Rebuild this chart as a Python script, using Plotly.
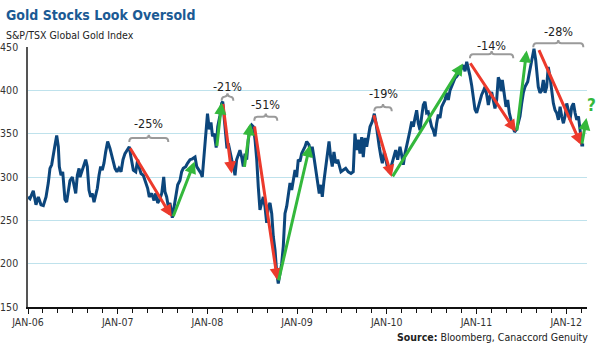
import plotly.graph_objects as go

# ---- data (decimal year, index level) ----
t = [2006.000, 2006.022, 2006.059, 2006.089, 2006.115, 2006.145, 2006.171, 2006.201, 2006.226, 2006.245,
     2006.264, 2006.282, 2006.301, 2006.320, 2006.338, 2006.349, 2006.368, 2006.387, 2006.401, 2006.412,
     2006.431, 2006.449, 2006.468, 2006.494, 2006.516, 2006.532, 2006.550, 2006.569, 2006.580, 2006.599,
     2006.616, 2006.643, 2006.661, 2006.680, 2006.699, 2006.717, 2006.736, 2006.755, 2006.773, 2006.792,
     2006.810, 2006.828, 2006.847, 2006.866, 2006.888, 2006.914, 2006.933, 2006.951, 2006.970, 2006.992,
     2007.014, 2007.037, 2007.059, 2007.081, 2007.104, 2007.129, 2007.148, 2007.174, 2007.201, 2007.223,
     2007.237, 2007.260, 2007.285, 2007.312, 2007.334, 2007.352, 2007.379, 2007.405, 2007.424, 2007.446,
     2007.464, 2007.491, 2007.513, 2007.527, 2007.546, 2007.564, 2007.583, 2007.609, 2007.631, 2007.650,
     2007.669, 2007.694, 2007.713, 2007.731, 2007.758, 2007.780, 2007.806, 2007.832, 2007.862, 2007.881,
     2007.906, 2007.929, 2007.943, 2007.962, 2007.981, 2008.001, 2008.021, 2008.040, 2008.057, 2008.077,
     2008.098, 2008.115, 2008.140, 2008.159, 2008.171, 2008.188, 2008.204, 2008.218, 2008.233, 2008.252,
     2008.271, 2008.289, 2008.308, 2008.326, 2008.344, 2008.363, 2008.382, 2008.400, 2008.419, 2008.438,
     2008.456, 2008.475, 2008.494, 2008.512, 2008.531, 2008.550, 2008.567, 2008.586, 2008.605, 2008.623,
     2008.642, 2008.661, 2008.679, 2008.698, 2008.717, 2008.735, 2008.754, 2008.773, 2008.790, 2008.809,
     2008.828, 2008.846, 2008.865, 2008.884, 2008.902, 2008.921, 2008.940, 2008.958, 2008.977, 2008.995,
     2009.013, 2009.032, 2009.051, 2009.069, 2009.088, 2009.107, 2009.133, 2009.155, 2009.169, 2009.192,
     2009.207, 2009.230, 2009.247, 2009.266, 2009.281, 2009.300, 2009.319, 2009.337, 2009.356, 2009.374,
     2009.392, 2009.411, 2009.430, 2009.453, 2009.470, 2009.489, 2009.515, 2009.542, 2009.571, 2009.601,
     2009.626, 2009.645, 2009.664, 2009.682, 2009.701, 2009.720, 2009.738, 2009.757, 2009.776, 2009.794,
     2009.813, 2009.838, 2009.861, 2009.880, 2009.898, 2009.916, 2009.935, 2009.950, 2009.972, 2009.988,
     2010.010, 2010.030, 2010.047, 2010.072, 2010.099, 2010.121, 2010.147, 2010.166, 2010.184, 2010.203,
     2010.222, 2010.240, 2010.259, 2010.278, 2010.296, 2010.314, 2010.333, 2010.351, 2010.370, 2010.389,
     2010.407, 2010.426, 2010.444, 2010.462, 2010.481, 2010.500, 2010.518, 2010.537, 2010.556, 2010.574,
     2010.593, 2010.612, 2010.630, 2010.649, 2010.668, 2010.686, 2010.705, 2010.723, 2010.741, 2010.760,
     2010.779, 2010.805, 2010.827, 2010.853, 2010.872, 2010.891, 2010.908, 2010.927, 2010.946, 2010.964,
     2010.983, 2011.002, 2011.020, 2011.039, 2011.058, 2011.076, 2011.095, 2011.114, 2011.132, 2011.150,
     2011.169, 2011.187, 2011.206, 2011.225, 2011.243, 2011.262, 2011.273, 2011.288, 2011.306, 2011.329,
     2011.348, 2011.366, 2011.385, 2011.404, 2011.424, 2011.448, 2011.467, 2011.485, 2011.504, 2011.522,
     2011.541, 2011.571, 2011.589, 2011.608, 2011.622, 2011.641, 2011.660, 2011.678, 2011.689, 2011.708,
     2011.727, 2011.745, 2011.764, 2011.782, 2011.800, 2011.819, 2011.838, 2011.857, 2011.876, 2011.894,
     2011.913, 2011.932, 2011.950, 2011.969, 2011.987, 2012.006, 2012.024, 2012.043, 2012.062, 2012.081,
     2012.099, 2012.118, 2012.137, 2012.155, 2012.174, 2012.200]

v = [277, 275, 284, 268, 277, 268, 267, 277, 293, 310,
     314, 327, 337, 348, 335, 312, 302, 306, 289, 274,
     271, 282, 296, 300, 290, 281, 302, 310, 300, 306,
     314, 320, 312, 285, 277, 281, 271, 281, 287, 302,
     312, 308, 316, 329, 341, 333, 325, 318, 310, 306,
     310, 306, 320, 327, 331, 335, 323, 308, 306, 320,
     312, 304, 302, 293, 287, 277, 281, 273, 281, 270,
     273, 281, 300, 283, 277, 266, 270, 253, 266, 281,
     291, 296, 306, 310, 312, 316, 320, 321, 323, 312,
     308, 304, 300, 327, 350, 373, 355, 363, 347, 350,
     334, 358, 371, 385, 387, 370, 350, 333, 339, 327,
     320, 312, 302, 320, 325, 331, 323, 312, 327, 320,
     343, 356, 360, 358, 343, 320, 289, 262, 270, 277,
     266, 247, 266, 270, 258, 231, 216, 189, 177, 189,
     200, 220, 258, 266, 281, 293, 285, 296, 308, 300,
     320, 318, 327, 331, 335, 341, 337, 323, 335, 320,
     308, 296, 281, 291, 277, 296, 312, 327, 341, 323,
     312, 329, 316, 320, 312, 306, 308, 310, 306, 304,
     306, 350, 331, 343, 327, 346, 323, 345, 335, 345,
     358, 364, 373, 362, 346, 335, 323, 316, 329, 320,
     310, 305, 312, 320, 331, 320, 335, 325, 314, 327,
     335, 343, 354, 364, 358, 368, 377, 362, 354, 370,
     383, 387, 374, 375, 366, 358, 354, 347, 362, 372,
     368, 381, 385, 389, 397, 389, 400, 404, 408, 414,
     416, 420, 424, 429, 422, 433, 426, 417, 406, 389,
     378, 374, 381, 386, 395, 399, 404, 395, 383, 393,
     398, 389, 379, 389, 415, 410, 399, 412, 395, 381,
     389, 374, 366, 358, 352, 355, 362, 370, 385, 397,
     404, 410, 420, 431, 439, 448, 435, 420, 404, 397,
     400, 412, 397, 404, 427, 416, 400, 385, 377, 374,
     366, 381, 370, 362, 370, 385, 377, 366, 381, 385,
     374, 366, 370, 354, 337, 337]

tick_years = [2006, 2007, 2008, 2009, 2010, 2011, 2012]
tick_labels = ["JAN-06", "JAN-07", "JAN-08", "JAN-09", "JAN-10", "JAN-11", "JAN-12"]
y_ticks = [150, 200, 250, 300, 350, 400, 450]

# arrows: (tail_t, tail_v, head_t, head_v)
red_arrows = [(2007.129, 335, 2007.602, 254),
              (2008.171, 386, 2008.271, 304),
              (2008.523, 360, 2008.781, 181),
              (2009.850, 373, 2010.055, 300),
              (2010.920, 433, 2011.440, 352),
              (2011.689, 448, 2012.168, 337)]
green_arrows = [(2007.613, 253, 2007.858, 318),
                (2008.104, 334, 2008.159, 386),
                (2008.411, 310, 2008.480, 362),
                (2008.790, 179, 2009.144, 337),
                (2010.055, 299, 2010.849, 431),
                (2011.448, 352, 2011.559, 446),
                (2012.173, 337, 2012.226, 368)]

# brackets
drawdown_labels = ["-25%", "-21%", "-51%", "-19%", "-14%", "-28%"]
bracket_start = [2007.129, 2008.159, 2008.523, 2009.861, 2010.927, 2011.633]
bracket_end = [2007.564, 2008.289, 2008.779, 2010.055, 2011.410, 2012.191]
bracket_level = [345, 392.7, 369.6, 380.4, 441.6, 454.3]
label_level = [361.7, 405.0, 384.2, 395.8, 452.3, 467.7]

X0, X1 = 2006.0, 2012.232
Y0, Y1 = 150, 450

def fx(tt):
    return (tt - X0) / (X1 - X0)

def fy(vv):
    return (vv - Y0) / (Y1 - Y0)

FONT = "Liberation Sans Narrow, DejaVu Sans Condensed, sans-serif"
RED = "#ec3a2c"
GREEN = "#34b83c"
LINE = "#0c467c"
GREY = "#9a9a9a"

fig = go.Figure()
fig.add_trace(go.Scatter(x=t, y=v, mode="lines",
                         line=dict(color=LINE, width=3), showlegend=False,
                         hoverinfo="skip"))

annotations = []
for (at, av, ht, hv) in red_arrows:
    annotations.append(dict(x=ht, y=hv, ax=at, ay=av, xref="x", yref="y",
                            axref="x", ayref="y", text="", showarrow=True,
                            arrowhead=2, arrowsize=0.8, arrowwidth=3, arrowcolor=RED))
for (at, av, ht, hv) in green_arrows:
    annotations.append(dict(x=ht, y=hv, ax=at, ay=av, xref="x", yref="y",
                            axref="x", ayref="y", text="", showarrow=True,
                            arrowhead=2, arrowsize=0.8, arrowwidth=3, arrowcolor=GREEN))

shapes = []
r = 0.035
for s0, s1, lv, lab, lbl_v in zip(bracket_start, bracket_end, bracket_level,
                                   drawdown_labels, label_level):
    xc = (s0 + s1) / 2
    drop, peak = 4.6, 3.8
    path = (f"M {fx(s0)},{fy(lv - drop)} Q {fx(s0)},{fy(lv)} {fx(s0 + r)},{fy(lv)} "
            f"L {fx(xc - r)},{fy(lv)} Q {fx(xc)},{fy(lv)} {fx(xc)},{fy(lv + peak)} "
            f"Q {fx(xc)},{fy(lv)} {fx(xc + r)},{fy(lv)} "
            f"L {fx(s1 - r)},{fy(lv)} Q {fx(s1)},{fy(lv)} {fx(s1)},{fy(lv - drop)}")
    shapes.append(dict(type="path", path=path, xref="paper", yref="paper",
                       line=dict(color=GREY, width=2)))
    annotations.append(dict(x=fx(xc), y=fy(lbl_v), xref="paper", yref="paper",
                            text=lab, showarrow=False, xanchor="center", yanchor="middle",
                            font=dict(family=FONT, size=12.5, color="#222")))

# question mark
annotations.append(dict(x=fx(2012.284), y=fy(383), xref="paper", yref="paper", text="<b>?</b>",
                        showarrow=False, xanchor="center", yanchor="middle",
                        font=dict(family=FONT, size=17, color=GREEN)))

# titles / source
annotations.append(dict(x=(4 - 28) / 559, y=(307 - 15) / 260, xref="paper", yref="paper",
                        text="<b>Gold Stocks Look Oversold</b>", showarrow=False,
                        xanchor="left", yanchor="middle",
                        font=dict(family=FONT, size=14, color="#1b5a94")))
annotations.append(dict(x=(4 - 28) / 559, y=(307 - 35) / 260, xref="paper", yref="paper",
                        text="S&P/TSX Global Gold Index", showarrow=False,
                        xanchor="left", yanchor="middle",
                        font=dict(family=FONT, size=10.5, color="#222")))
annotations.append(dict(x=(590 - 28) / 559, y=(307 - 337) / 260, xref="paper", yref="paper",
                        text="<b>Source:</b> Bloomberg, Canaccord Genuity", showarrow=False,
                        xanchor="right", yanchor="middle",
                        font=dict(family=FONT, size=10.5, color="#222")))

fig.update_layout(
    width=601, height=351,
    margin=dict(l=28, r=14, t=47, b=44),
    paper_bgcolor="white", plot_bgcolor="white",
    showlegend=False,
    annotations=annotations, shapes=shapes,
    xaxis=dict(range=[X0, X1], tickmode="array", tickvals=tick_years, ticktext=tick_labels,
               automargin=False,
               ticks="outside", ticklen=5, tickcolor="#111", tickwidth=1,
               showline=True, linecolor="#111", linewidth=1.5, showgrid=False, zeroline=False,
               tickfont=dict(family=FONT, size=10.5, color="#333"),
               minor=dict(tickmode="linear", tick0=2006, dtick=1 / 6, ticks="outside",
                          ticklen=4, tickcolor="#111", showgrid=False)),
    yaxis=dict(range=[Y0, Y1], tickmode="array", tickvals=y_ticks, automargin=False,
               showgrid=True, gridcolor="#bfe2ec", gridwidth=1,
               showline=True, linecolor="#555", linewidth=1.5, zeroline=False,
               ticks="", ticklabelstandoff=6,
               tickfont=dict(family=FONT, size=10.5, color="#333")),
)

fig.write_html("out.html")
